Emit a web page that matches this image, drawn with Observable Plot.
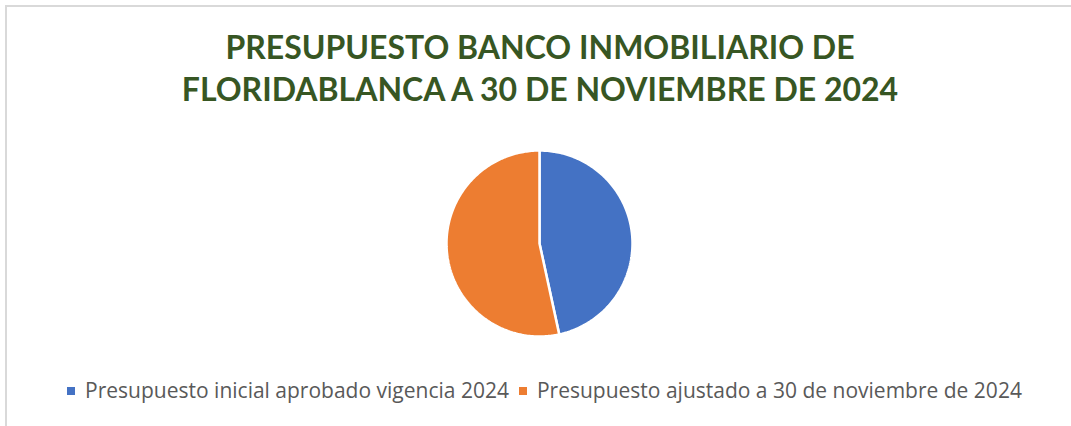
<!DOCTYPE html>
<html>
<head>
<meta charset="utf-8">
<script src="https://cdn.jsdelivr.net/npm/d3@7"></script>
<script src="https://cdn.jsdelivr.net/npm/@observablehq/plot@0.6"></script>
<style>
  html, body { margin: 0; padding: 0; background: #fff; width: 1071px; height: 426px; overflow: hidden; }
  #frame { position: absolute; left: 5px; top: 5px; width: 1200px; height: 600px;
           border-left: 2px solid #d9d9d9; border-top: 2px solid #d9d9d9; }
  #title { position: absolute; left: 0; width: 1080px; top: 26px; text-align: center;
           font-family: Lato, "Open Sans", sans-serif; font-weight: 700; font-size: 32px;
           line-height: 42px; color: #375623; }
  #chart { position: absolute; left: 0; top: 130px; }
  #legend { position: absolute; left: 0; width: 1089px; top: 376px; text-align: center;
            font-family: "Open Sans", Lato, sans-serif; font-size: 21px; color: #595959; white-space: nowrap; }
  .sw { display: inline-block; width: 8px; height: 8px; margin-right: 10px; vertical-align: 3px; }
  .item { margin: 0 5px; }
</style>
</head>
<body>
<div id="frame"></div>
<div id="title">PRESUPUESTO BANCO INMOBILIARIO DE<br>FLORIDABLANCA A 30 DE NOVIEMBRE DE 2024</div>
<div id="chart"></div>
<div id="legend"></div>
<script>
const categories = ["Presupuesto inicial aprobado vigencia 2024", "Presupuesto ajustado a 30 de noviembre de 2024"];
const values = [46.6, 53.4];
const colors = ["#4472c4", "#ed7d31"];

const pie = d3.pie().sort(null).value(d => d.value).startAngle(0).endAngle(2 * Math.PI);
const arcs = pie(categories.map((c, i) => ({category: c, value: values[i]})));

// Build slice outlines (center + arc samples) from the pie angles
const pts = [];
for (const a of arcs) {
  const n = Math.max(2, Math.ceil((a.endAngle - a.startAngle) / (Math.PI / 180)));
  pts.push({category: a.data.category, x: 0, y: 0});
  for (let k = 0; k <= n; k++) {
    const t = a.startAngle + (a.endAngle - a.startAngle) * k / n;
    pts.push({category: a.data.category, x: Math.sin(t), y: Math.cos(t)});
  }
  pts.push({category: a.data.category, x: 0, y: 0});
}

const cx = 539, cy = 113, r = 93;
const plot = Plot.plot({
  width: 1071,
  height: 230,
  margin: 0,
  x: {domain: [-1, 1], range: [cx - r, cx + r], axis: null},
  y: {domain: [-1, 1], range: [cy + r, cy - r], axis: null},
  color: {domain: categories, range: colors},
  marks: [
    Plot.line(pts, {x: "x", y: "y", z: "category", fill: "category", stroke: "white", strokeWidth: 2.5, strokeLinejoin: "miter"})
  ]
});
document.getElementById("chart").appendChild(plot);

const legend = document.getElementById("legend");
categories.forEach((c, i) => {
  const span = document.createElement("span");
  span.className = "item";
  span.innerHTML = `<span class="sw" style="background:${colors[i]}"></span>${c}`;
  legend.appendChild(span);
});
</script>
</body>
</html>
